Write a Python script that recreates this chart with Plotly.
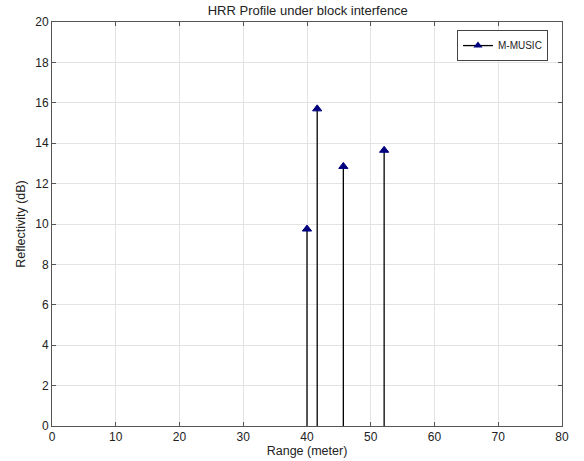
import plotly.graph_objects as go

ranges = [40.0, 41.6, 45.7, 52.1]
reflectivity = [9.75, 15.7, 12.85, 13.65]
series_name = "M-MUSIC"
x_ticks = [0, 10, 20, 30, 40, 50, 60, 70, 80]
y_ticks = [0, 2, 4, 6, 8, 10, 12, 14, 16, 18, 20]

stem_x, stem_y = [], []
for xv, yv in zip(ranges, reflectivity):
    stem_x += [xv, xv, None]
    stem_y += [0, yv, None]

fig = go.Figure()
fig.add_trace(go.Scatter(x=stem_x, y=stem_y, mode="lines",
                         line=dict(color="black", width=1.3),
                         showlegend=False, hoverinfo="skip"))
fig.add_trace(go.Scatter(x=ranges, y=reflectivity, mode="markers",
                         marker=dict(symbol="triangle-up", size=8, color="#00007f",
                                     line=dict(color="#00007f", width=1)),
                         showlegend=False))
fig.add_trace(go.Scatter(x=[None], y=[None], mode="lines+markers", name=series_name,
                         line=dict(color="black", width=1.3),
                         marker=dict(symbol="triangle-up", size=8, color="#00007f")))

axis_common = dict(showline=True, linecolor="#555", linewidth=1, mirror="ticks",
                   ticks="inside", ticklen=4, tickcolor="#555", automargin=False,
                   showgrid=True, gridcolor="#e3e3e3", gridwidth=1,
                   tickfont=dict(size=12, color="#222"))

fig.update_layout(
    width=584, height=461,
    margin=dict(l=52, r=22, t=22, b=35),
    paper_bgcolor="white", plot_bgcolor="white",
    font=dict(family="Liberation Sans, Arial, sans-serif", size=12, color="#222"),
    title=dict(text="HRR Profile under block interfence", x=0.527, xanchor="center",
               y=0.988, yanchor="top", font=dict(size=13, color="#222")),
    xaxis=dict(range=[0, 80], tickvals=x_ticks, zeroline=False,
               title=dict(text="Range (meter)", standoff=1, font=dict(size=12.5)),
               **axis_common),
    yaxis=dict(range=[0, 20], tickvals=y_ticks,
               zeroline=True, zerolinecolor="black", zerolinewidth=1.6,
               title=dict(text="Reflectivity (dB)", standoff=6, font=dict(size=12.5)),
               **axis_common),
    legend=dict(x=0.9725, y=0.98, xanchor="right", yanchor="top",
                bgcolor="white", bordercolor="#444", borderwidth=1,
                font=dict(size=10, color="#222"), itemwidth=30,
                tracegroupgap=0),
    showlegend=True,
)

fig.write_html("out.html", config={"displayModeBar": False},
               post_script="document.body.style.margin='0';document.body.style.overflow='hidden';")
